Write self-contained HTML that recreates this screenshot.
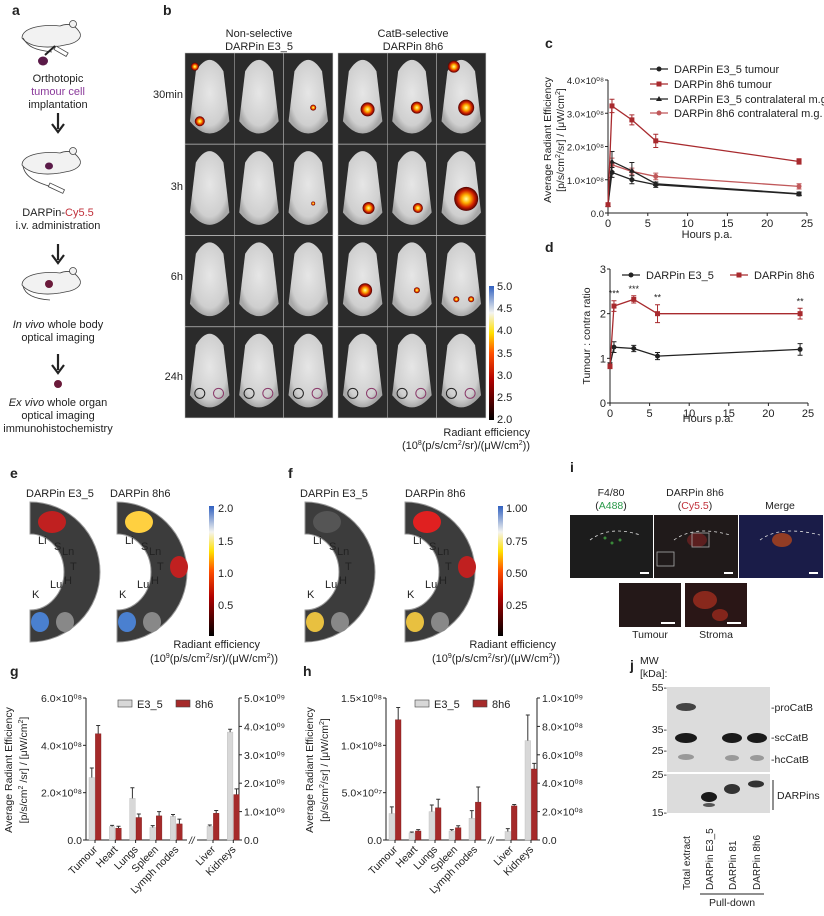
<!DOCTYPE html>
<html><head><meta charset="utf-8"><style>
body{margin:0;background:#fff;}
svg{display:block;font-family:"Liberation Sans",Arial,sans-serif;}
</style></head><body>
<svg id="fig" width="824" height="916" viewBox="0 0 824 916" xmlns="http://www.w3.org/2000/svg">
<defs>
<radialGradient id="hot" cx="50%" cy="50%" r="50%"><stop offset="0" stop-color="#ffffa0"/><stop offset="0.35" stop-color="#ffb000"/><stop offset="0.7" stop-color="#d02000"/><stop offset="1" stop-color="#500000"/></radialGradient>
<radialGradient id="mouse" cx="50%" cy="45%" r="55%"><stop offset="0" stop-color="#e6e6e6"/><stop offset="0.8" stop-color="#cfcfcf"/><stop offset="1" stop-color="#a8a8a8"/></radialGradient>
<linearGradient id="cbar" x1="0" y1="1" x2="0" y2="0"><stop offset="0" stop-color="#000"/><stop offset="0.3" stop-color="#b00000"/><stop offset="0.5" stop-color="#ff5000"/><stop offset="0.65" stop-color="#ffe000"/><stop offset="0.8" stop-color="#f4f4f0"/><stop offset="1" stop-color="#3060c0"/></linearGradient>
</defs>

<!-- Panel a -->
<g font-size="11" fill="#222" text-anchor="middle">
<text x="12" y="15" font-size="14" font-weight="bold" text-anchor="start">a</text>
<g fill="#f2f2f2" stroke="#444" stroke-width="0.8">
<path d="M22,38 C22,27 45,24 60,26 C70,22 76,26 80,33 C82,38 77,42 70,44 L60,46 C48,48 30,48 22,38 Z"/>
<circle cx="73" cy="24" r="3.5"/>
<path d="M23,38 C28,47 35,50 52,52" fill="none"/>
</g>
<line x1="55" y1="46" x2="45" y2="55" stroke="#222" stroke-width="2"/>
<rect x="56" y="46" width="14" height="4" transform="rotate(30 56 46)" fill="#fff" stroke="#444" stroke-width="0.8"/>
<ellipse cx="43" cy="61" rx="5" ry="4.5" fill="#5a1a48"/>
<text x="58" y="82">Orthotopic</text>
<text x="58" y="95" fill="#8a3a9a">tumour cell</text>
<text x="58" y="108">implantation</text>
<path d="M58,113 L58,129 M52,124 L58,132 L64,124" stroke="#222" stroke-width="2.2" fill="none"/>
<g fill="#f2f2f2" stroke="#444" stroke-width="0.8">
<path d="M22,165 C22,154 45,151 60,153 C70,149 76,153 80,160 C82,165 77,169 70,171 L60,173 C48,175 30,175 22,165 Z"/>
<circle cx="73" cy="151" r="3.5"/>
<path d="M23,166 C25,178 38,183 55,188" fill="none"/>
</g>
<ellipse cx="49" cy="166" rx="4" ry="3.5" fill="#5a1a48"/>
<rect x="50" y="183" width="16" height="4" transform="rotate(25 50 183)" fill="#fff" stroke="#444" stroke-width="0.8"/>
<text x="58" y="216">DARPin-<tspan fill="#c0303a">Cy5.5</tspan></text>
<text x="58" y="229">i.v. administration</text>
<path d="M58,244 L58,260 M52,255 L58,263 L64,255" stroke="#222" stroke-width="2.2" fill="none"/>
<g fill="#f2f2f2" stroke="#444" stroke-width="0.8">
<path d="M22,285 C22,274 45,271 60,273 C70,269 76,273 80,280 C82,285 77,289 70,291 L60,293 C48,295 30,295 22,285 Z"/>
<circle cx="73" cy="271" r="3.5"/>
<path d="M23,286 C25,295 35,299 50,300" fill="none"/>
</g>
<circle cx="49" cy="284" r="4" fill="#6a1a3a"/>
<text x="58" y="328"><tspan font-style="italic">In vivo</tspan> whole body</text>
<text x="58" y="341">optical imaging</text>
<path d="M58,354 L58,370 M52,365 L58,373 L64,365" stroke="#222" stroke-width="2.2" fill="none"/>
<circle cx="58" cy="384" r="4" fill="#6a1a3a"/>
<text x="58" y="406"><tspan font-style="italic">Ex vivo</tspan> whole organ</text>
<text x="58" y="419">optical imaging</text>
<text x="58" y="432">immunohistochemistry</text>
</g>

<!-- Panel b -->
<g font-size="11" fill="#222">
<text x="163" y="15" font-size="14" font-weight="bold">b</text>
<text x="259" y="37" text-anchor="middle">Non-selective</text>
<text x="259" y="50" text-anchor="middle">DARPin E3_5</text>
<text x="413" y="37" text-anchor="middle">CatB-selective</text>
<text x="413" y="50" text-anchor="middle">DARPin 8h6</text>
<text x="183" y="98" text-anchor="end">30min</text>
<text x="183" y="190" text-anchor="end">3h</text>
<text x="183" y="280" text-anchor="end">6h</text>
<text x="183" y="380" text-anchor="end">24h</text>
<g id="bgrid"></g>
<rect x="489" y="286" width="5" height="134" fill="url(#cbar)"/>
<g font-size="11" text-anchor="start">
<text x="497" y="290">5.0</text><text x="497" y="312">4.5</text><text x="497" y="334">4.0</text><text x="497" y="357">3.5</text><text x="497" y="379">3.0</text><text x="497" y="401">2.5</text><text x="497" y="423">2.0</text>
</g>
<text x="530" y="436" text-anchor="end">Radiant efficiency</text>
<text x="530" y="449" text-anchor="end">(10<tspan font-size="7" dy="-4">8</tspan><tspan dy="4">(p/s/cm</tspan><tspan font-size="7" dy="-4">2</tspan><tspan dy="4">/sr)/(μW/cm</tspan><tspan font-size="7" dy="-4">2</tspan><tspan dy="4">))</tspan></text>
</g>

<!-- Panel c/d -->
<g font-size="10.5" fill="#222">
<text x="545" y="48" font-size="14" font-weight="bold">c</text>
<text transform="translate(551,140) rotate(-90)" text-anchor="middle" font-size="10.5">Average Radiant Efficiency</text>
<text transform="translate(564,140) rotate(-90)" text-anchor="middle" font-size="10.5">[p/s/cm<tspan font-size="7" dy="-4">2</tspan><tspan dy="4">/sr] / [μW/cm</tspan><tspan font-size="7" dy="-4">2</tspan><tspan dy="4">]</tspan></text>
<g id="cplot"></g>
<text x="707" y="238" text-anchor="middle" font-size="11">Hours p.a.</text>
</g>
<g font-size="11" fill="#222">
<text x="545" y="252" font-size="14" font-weight="bold">d</text>
<text transform="translate(590,336) rotate(-90)" text-anchor="middle" font-size="10.5">Tumour : contra ratio</text>
<g id="dplot"></g>
<text x="708" y="422" text-anchor="middle">Hours p.a.</text>
</g>

<!-- Panel e -->
<g font-size="11" fill="#222">
<text x="10" y="478" font-size="14" font-weight="bold">e</text>
<text x="26" y="497">DARPin E3_5</text>
<text x="110" y="497">DARPin 8h6</text>
<g id="erings"></g>
<rect x="209" y="506" width="5" height="130" fill="url(#cbar)"/>
<text x="218" y="512">2.0</text><text x="218" y="545">1.5</text><text x="218" y="577">1.0</text><text x="218" y="609">0.5</text>
<text x="260" y="648" text-anchor="end">Radiant efficiency</text>
<text x="278" y="662" text-anchor="end">(10<tspan font-size="7" dy="-4">9</tspan><tspan dy="4">(p/s/cm</tspan><tspan font-size="7" dy="-4">2</tspan><tspan dy="4">/sr)/(μW/cm</tspan><tspan font-size="7" dy="-4">2</tspan><tspan dy="4">))</tspan></text>
</g>
<!-- Panel f -->
<g font-size="11" fill="#222">
<text x="288" y="478" font-size="14" font-weight="bold">f</text>
<text x="300" y="497">DARPin E3_5</text>
<text x="405" y="497">DARPin 8h6</text>
<rect x="498" y="506" width="5" height="130" fill="url(#cbar)"/>
<text x="506" y="512">1.00</text><text x="506" y="545">0.75</text><text x="506" y="577">0.50</text><text x="506" y="609">0.25</text>
<text x="556" y="648" text-anchor="end">Radiant efficiency</text>
<text x="560" y="662" text-anchor="end">(10<tspan font-size="7" dy="-4">9</tspan><tspan dy="4">(p/s/cm</tspan><tspan font-size="7" dy="-4">2</tspan><tspan dy="4">/sr)/(μW/cm</tspan><tspan font-size="7" dy="-4">2</tspan><tspan dy="4">))</tspan></text>
</g>

<!-- Panel i -->
<g font-size="10.5" fill="#222" text-anchor="middle">
<text x="570" y="472" font-size="14" font-weight="bold" text-anchor="start">i</text>
<text x="611" y="496">F4/80</text>
<text x="611" y="509">(<tspan fill="#2a9a4a">A488</tspan>)</text>
<text x="695" y="496">DARPin 8h6</text>
<text x="695" y="509">(<tspan fill="#c0303a">Cy5.5</tspan>)</text>
<text x="780" y="509">Merge</text>
<rect x="570" y="515" width="83" height="63" fill="#1c1c1c"/>
<rect x="654" y="515" width="84" height="63" fill="#201a1a"/>
<rect x="739" y="515" width="84" height="63" fill="#1a1c48"/>
<g fill="#3a8a3a"><circle cx="605" cy="538" r="1.5"/><circle cx="612" cy="543" r="1.5"/><circle cx="620" cy="540" r="1.5"/></g>
<ellipse cx="697" cy="540" rx="10" ry="7" fill="#6a2020" opacity="0.8"/>
<ellipse cx="782" cy="540" rx="10" ry="7" fill="#a04020" opacity="0.9"/>
<path d="M590,540 Q610,525 640,535 M674,540 Q695,525 730,535 M760,540 Q780,525 820,535" stroke="#ddd" stroke-dasharray="3,3" fill="none" stroke-width="0.8"/>
<rect x="657" y="552" width="17" height="14" fill="none" stroke="#aaa" stroke-width="0.8"/>
<rect x="692" y="533" width="17" height="14" fill="none" stroke="#aaa" stroke-width="0.8"/>
<rect x="619" y="583" width="62" height="44" fill="#241818"/>
<rect x="685" y="583" width="62" height="44" fill="#2a1616"/>
<ellipse cx="705" cy="600" rx="12" ry="9" fill="#b03020" opacity="0.7"/>
<ellipse cx="720" cy="615" rx="8" ry="6" fill="#c03020" opacity="0.6"/>
<g fill="#fff"><rect x="640" y="572" width="9" height="2"/><rect x="724" y="572" width="9" height="2"/><rect x="809" y="572" width="9" height="2"/><rect x="661" y="622" width="14" height="2"/><rect x="727" y="622" width="14" height="2"/></g>
<text x="650" y="638">Tumour</text>
<text x="716" y="638">Stroma</text>
</g>

<!-- Panel j -->
<g font-size="10.5" fill="#222">
<text x="630" y="670" font-size="14" font-weight="bold">j</text>
<text x="640" y="664">MW</text>
<text x="640" y="677">[kDa]:</text>
<rect x="667" y="687" width="103" height="85" fill="#dcdcdc"/>
<rect x="667" y="774" width="103" height="39" fill="#dcdcdc"/>
<g fill="#1a1a1a">
<ellipse cx="686" cy="707" rx="10" ry="4" fill="#444"/>
<ellipse cx="686" cy="738" rx="11" ry="5"/>
<ellipse cx="732" cy="738" rx="10" ry="5"/>
<ellipse cx="757" cy="738" rx="10" ry="5"/>
<ellipse cx="686" cy="757" rx="8" ry="3" fill="#999"/>
<ellipse cx="732" cy="758" rx="7" ry="3" fill="#999"/>
<ellipse cx="757" cy="758" rx="7" ry="3" fill="#999"/>
<ellipse cx="709" cy="797" rx="8" ry="5"/>
<ellipse cx="709" cy="805" rx="6" ry="2" fill="#555"/>
<ellipse cx="732" cy="789" rx="8" ry="5" fill="#333"/>
<ellipse cx="756" cy="784" rx="8" ry="3.5" fill="#333"/>
</g>
<g text-anchor="end"><text x="667" y="691">55-</text><text x="667" y="733">35-</text><text x="667" y="754">25-</text><text x="667" y="778">25-</text><text x="667" y="816">15-</text></g>
<text x="771" y="711">-proCatB</text>
<text x="771" y="741">-scCatB</text>
<text x="771" y="763">-hcCatB</text>
<line x1="773" y1="780" x2="773" y2="810" stroke="#222"/>
<text x="777" y="799">DARPins</text>
<g font-size="10">
<text transform="translate(690,890) rotate(-90)">Total extract</text>
<text transform="translate(713,890) rotate(-90)">DARPin E3_5</text>
<text transform="translate(736,890) rotate(-90)">DARPin 81</text>
<text transform="translate(760,890) rotate(-90)">DARPin 8h6</text>
</g>
<line x1="700" y1="894" x2="764" y2="894" stroke="#222"/>
<text x="732" y="906" text-anchor="middle">Pull-down</text>
</g>

<!-- Panel g/h -->
<g font-size="10.5" fill="#222">
<text x="10" y="676" font-size="14" font-weight="bold">g</text>
<text transform="translate(12,770) rotate(-90)" text-anchor="middle">Average Radiant Efficiency</text>
<text transform="translate(27,770) rotate(-90)" text-anchor="middle">[p/s/cm<tspan font-size="7" dy="-4">2</tspan><tspan dy="4"> /sr] / [μW/cm</tspan><tspan font-size="7" dy="-4">2</tspan><tspan dy="4">]</tspan></text>
<g id="gplot"></g>
</g>
<g font-size="10.5" fill="#222">
<text x="303" y="676" font-size="14" font-weight="bold">h</text>
<text transform="translate(313,770) rotate(-90)" text-anchor="middle">Average Radiant Efficiency</text>
<text transform="translate(328,770) rotate(-90)" text-anchor="middle">[p/s/cm<tspan font-size="7" dy="-4">2</tspan><tspan dy="4">/sr] / [μW/cm</tspan><tspan font-size="7" dy="-4">2</tspan><tspan dy="4">]</tspan></text>
<g id="hplot"></g>
</g>
</svg>
<script>
// ---- panel c data ----
const cTimes = [0, 0.5, 3, 6, 24];
const cE35Tumour = [0.25, 1.22, 1.0, 0.85, 0.57];
const c8h6Tumour = [0.25, 3.22, 2.8, 2.17, 1.55];
const cE35Contra = [0.25, 1.55, 1.27, 0.88, 0.58];
const c8h6Contra = [0.25, 1.45, 1.25, 1.1, 0.8];
const cErr = [0.05, 0.2, 0.15, 0.2, 0.08];
const cYTicks = ["0.0", "1.0×10⁰⁸", "2.0×10⁰⁸", "3.0×10⁰⁸", "4.0×10⁰⁸"];
const xTicks = [0, 5, 10, 15, 20, 25];
// ---- panel d data ----
const dE35 = [0.85, 1.25, 1.22, 1.05, 1.2];
const d8h6 = [0.82, 2.17, 2.32, 2.0, 2.0];
const dErr = [0.05, 0.12, 0.08, 0.2, 0.12];
const dStars = ["", "***", "***", "**", "**"];
const dYTicks = [0, 1, 2, 3];
// ---- panel g data ----
const organsLeft = ["Tumour", "Heart", "Lungs", "Spleen", "Lymph nodes"];
const organsRight = ["Liver", "Kidneys"];
const gE35L = [2.64, 0.57, 1.76, 0.53, 1.0];
const g8h6L = [4.49, 0.5, 0.95, 1.02, 0.68];
const gE35LErr = [0.4, 0.05, 0.45, 0.08, 0.08];
const g8h6LErr = [0.35, 0.08, 0.15, 0.18, 0.2];
const gE35R = [0.48, 3.8];
const g8h6R = [0.94, 1.6];
const gE35RErr = [0.05, 0.1];
const g8h6RErr = [0.1, 0.2];
const gLeftTicks = ["0.0", "2.0×10⁰⁸", "4.0×10⁰⁸", "6.0×10⁰⁸"];
const gRightTicks = ["0.0", "1.0×10⁰⁹", "2.0×10⁰⁹", "3.0×10⁰⁹", "4.0×10⁰⁹", "5.0×10⁰⁹"];
// ---- panel h data ----
const hE35L = [2.8, 0.75, 3.0, 0.95, 2.3];
const h8h6L = [12.7, 0.95, 3.4, 1.3, 4.0];
const hE35LErr = [0.7, 0.1, 0.7, 0.15, 0.8];
const h8h6LErr = [1.3, 0.15, 0.9, 0.2, 1.6];
const hE35R = [0.06, 0.7];
const h8h6R = [0.24, 0.5];
const hE35RErr = [0.02, 0.18];
const h8h6RErr = [0.01, 0.04];
const hLeftTicks = ["0.0", "5.0×10⁰⁷", "1.0×10⁰⁸", "1.5×10⁰⁸"];
const hRightTicks = ["0.0", "2.0×10⁰⁸", "4.0×10⁰⁸", "6.0×10⁰⁸", "8.0×10⁰⁸", "1.0×10⁰⁹"];

const NS = "http://www.w3.org/2000/svg";
function mk(parent, tag, attrs, txt) {
  const e = document.createElementNS(NS, tag);
  for (const k in attrs) e.setAttribute(k, attrs[k]);
  if (txt !== undefined) e.textContent = txt;
  parent.appendChild(e);
  return e;
}

// ---- line charts ----
function lineChart(g, ox, oy, w, h, ymax, yTicks, fs) {
  const X = t => ox + t / 25 * w;
  const Y = v => oy - v / ymax * h;
  let ax = mk(g, "path", {d: `M${ox},${oy - h} L${ox},${oy} L${ox + w},${oy}`, stroke: "#222", fill: "none", "stroke-width": 1});
  
  
  yTicks.forEach((lab, i) => {
    const v = i / (yTicks.length - 1) * ymax;
    mk(g, "line", {x1: ox - 3, x2: ox, y1: Y(v), y2: Y(v), stroke: "#222"});
    let t = mk(g, "text", {x: ox - 4, y: Y(v) + 4, "text-anchor": "end", "font-size": fs}, lab);
    
    
  });
  xTicks.forEach(v => {
    mk(g, "line", {x1: X(v), x2: X(v), y1: oy, y2: oy + 3, stroke: "#222"});
    let t = mk(g, "text", {x: X(v), y: oy + 14, "text-anchor": "middle", "font-size": 11}, v);
    
    
  });
  return {X, Y};
}
function series(g, sc, vals, err, color, marker, name) {
  const pts = cTimes.map((t, i) => `${sc.X(t)},${sc.Y(vals[i])}`).join(" ");
  let pl = mk(g, "polyline", {points: pts, fill: "none", stroke: color, "stroke-width": 1.3});
  
  
  cTimes.forEach((t, i) => {
    const x = sc.X(t), y = sc.Y(vals[i]), e = sc.Y(0) - sc.Y(err[i]);
    mk(g, "path", {d: `M${x},${y - e} L${x},${y + e} M${x - 2.5},${y - e} L${x + 2.5},${y - e} M${x - 2.5},${y + e} L${x + 2.5},${y + e}`, stroke: color, fill: "none"});
    let m;
    if (marker === "tri") m = mk(g, "path", {d: `M${x},${y - 3} L${x + 3},${y + 2} L${x - 3},${y + 2} Z`, fill: color});
    else if (marker === "sq") m = mk(g, "rect", {x: x - 2.5, y: y - 2.5, width: 5, height: 5, fill: color});
    else m = mk(g, "circle", {cx: x, cy: y, r: 2.5, fill: color});
    
    
  });
}
function legendRow(g, x, y, color, marker, label) {
  mk(g, "line", {x1: x, x2: x + 18, y1: y, y2: y, stroke: color, "stroke-width": 1.3});
  if (marker === "sq") mk(g, "rect", {x: x + 6.5, y: y - 2.5, width: 5, height: 5, fill: color});
  else if (marker === "tri") mk(g, "path", {d: `M${x + 9},${y - 3} L${x + 12},${y + 2} L${x + 6},${y + 2} Z`, fill: color});
  else mk(g, "circle", {cx: x + 9, cy: y, r: 2.5, fill: color});
  let t = mk(g, "text", {x: x + 24, y: y + 4, "font-size": 11}, label);
  
  
}
const RED = "#a82a2e", RED2 = "#c0585a";
{
  const g = document.getElementById("cplot");
  const sc = lineChart(g, 608, 213, 199, 133, 4, cYTicks, 9.5);
  series(g, sc, c8h6Contra, [0.05, 0.2, 0.1, 0.1, 0.08], RED2, "circ", "e8h6-contra");
  series(g, sc, cE35Contra, [0.05, 0.3, 0.25, 0.05, 0.05], "#222", "tri", "e35-contra");
  series(g, sc, cE35Tumour, [0.05, 0.15, 0.12, 0.08, 0.05], "#222", "circ", "e35-tumour");
  series(g, sc, c8h6Tumour, cErr, RED, "sq", "e8h6-tumour");
  legendRow(g, 650, 69, "#222", "circ", "DARPin E3_5 tumour");
  legendRow(g, 650, 84, RED, "sq", "DARPin 8h6 tumour");
  legendRow(g, 650, 99, "#222", "tri", "DARPin E3_5 contralateral m.g");
  legendRow(g, 650, 113, RED2, "circ", "DARPin 8h6 contralateral m.g.");
}
{
  const g = document.getElementById("dplot");
  const sc = lineChart(g, 610, 403, 198, 134, 3, dYTicks, 11);
  series(g, sc, dE35, [0.05, 0.12, 0.07, 0.08, 0.13], "#222", "circ", "d-e35");
  series(g, sc, d8h6, dErr, RED, "sq", "d-8h6");
  cTimes.forEach((t, i) => {
    if (!dStars[i]) return;
    let s = mk(g, "text", {x: sc.X(t), y: sc.Y(d8h6[i] + dErr[i]) - 4, "text-anchor": "middle", "font-size": 9}, dStars[i]);
    
    
  });
  legendRow(g, 622, 275, "#222", "circ", "DARPin E3_5");
  legendRow(g, 730, 275, RED, "sq", "DARPin 8h6");
}

// ---- bar charts ----
function barChart(g, cfg) {
  const oy = 840, h = 142;
  const YL = v => oy - v / cfg.lmax * h;
  const YR = v => oy - v / cfg.rmax * h;
  mk(g, "path", {d: `M${cfg.lx},${oy - h} L${cfg.lx},${oy} L${cfg.lend},${oy}`, stroke: "#222", fill: "none"});
  mk(g, "path", {d: `M${cfg.rstart},${oy} L${cfg.rx},${oy} L${cfg.rx},${oy - h}`, stroke: "#222", fill: "none"});
  mk(g, "text", {x: cfg.lend + 2, y: oy + 4, "font-size": 10, "font-style": "italic"}, "//");
  cfg.lt.forEach((lab, i) => {
    const y = oy - i / (cfg.lt.length - 1) * h;
    mk(g, "line", {x1: cfg.lx - 3, x2: cfg.lx, y1: y, y2: y, stroke: "#222"});
    let t = mk(g, "text", {x: cfg.lx - 4, y: y + 4, "text-anchor": "end"}, lab);
    
    
  });
  cfg.rt.forEach((lab, i) => {
    const y = oy - i / (cfg.rt.length - 1) * h;
    mk(g, "line", {x1: cfg.rx, x2: cfg.rx + 3, y1: y, y2: y, stroke: "#222"});
    let t = mk(g, "text", {x: cfg.rx + 5, y: y + 4}, lab);
    
    
  });
  function bars(cx, a, b, ea, eb, Y, cat) {
    [[a, ea, "#d8d8d8", "#bbb", -3.2, "e35"], [b, eb, "#a52a2a", "#7a1a1a", 3.2, "8h6"]].forEach(([v, e, f, s, off, nm]) => {
      const x = cx + off;
      let r = mk(g, "rect", {x: x - 2.8, y: Y(v), width: 5.6, height: oy - Y(v), fill: f, stroke: s, "stroke-width": 0.4});
      
      
      mk(g, "path", {d: `M${x},${Y(v)} L${x},${Y(v + e)} M${x - 2},${Y(v + e)} L${x + 2},${Y(v + e)}`, stroke: "#333", fill: "none"});
    });
    let t = mk(g, "text", {transform: `translate(${cx + 3},${oy + 10}) rotate(-45)`, "text-anchor": "end"}, cat);
    
    
    mk(g, "line", {x1: cx, x2: cx, y1: oy, y2: oy + 3, stroke: "#222"});
  }
  organsLeft.forEach((c, i) => bars(cfg.lg0 + i * cfg.step, cfg.aL[i], cfg.bL[i], cfg.eaL[i], cfg.ebL[i], YL, c));
  organsRight.forEach((c, i) => bars(cfg.rg0 + i * cfg.step, cfg.aR[i], cfg.bR[i], cfg.eaR[i], cfg.ebR[i], YR, c));
  mk(g, "rect", {x: cfg.legx, y: 700, width: 14, height: 7, fill: "#d8d8d8", stroke: "#444", "stroke-width": 0.6});
  let l1 = mk(g, "text", {x: cfg.legx + 19, y: 708, "font-size": 11}, "E3_5");
  
  
  mk(g, "rect", {x: cfg.legx + 58, y: 700, width: 14, height: 7, fill: "#a52a2a", stroke: "#444", "stroke-width": 0.6});
  let l2 = mk(g, "text", {x: cfg.legx + 77, y: 708, "font-size": 11}, "8h6");
  
  
}
barChart(document.getElementById("gplot"), {lx: 86, lend: 187, rstart: 197, rx: 239, lmax: 6, rmax: 5, lt: gLeftTicks, rt: gRightTicks,
  lg0: 95, rg0: 213, step: 20.3, aL: gE35L, bL: g8h6L, eaL: gE35LErr, ebL: g8h6LErr, aR: gE35R, bR: g8h6R, eaR: gE35RErr, ebR: g8h6RErr, legx: 118});
barChart(document.getElementById("hplot"), {lx: 386, lend: 486, rstart: 496, rx: 537, lmax: 15, rmax: 1.0, lt: hLeftTicks, rt: hRightTicks,
  lg0: 395, rg0: 511, step: 20, aL: hE35L, bL: h8h6L, eaL: hE35LErr, ebL: h8h6LErr, aR: hE35R, bR: h8h6R, eaR: hE35RErr, ebR: h8h6RErr, legx: 415});

// ---- panel b mice grid ----
{
  const g = document.getElementById("bgrid");
  const grids = [185, 338];
  const hot = [
    [[[0.3,0.75,5],[0.2,0.15,4]],[],[[0.6,0.6,3]]],
    [[[0.6,0.62,7]],[[0.6,0.6,6]],[[0.6,0.6,8],[0.35,0.15,6]]],
    [[],[],[[0.6,0.65,2]]],
    [[[0.62,0.7,6]],[[0.62,0.7,5]],[[0.6,0.6,12]]],
    [[],[],[]],
    [[[0.55,0.6,7]],[[0.6,0.6,3]],[[0.4,0.7,3],[0.7,0.7,3]]],
    [[],[],[]],
    [[],[],[]]
  ];
  for (let r = 0; r < 4; r++) {
    grids.forEach((gx, gi) => {
      for (let c = 0; c < 3; c++) {
        const x = gx + c * 49.3, y = 53 + r * 91.3, w = 49.3, h = 91;
        let cell = mk(g, "rect", {x, y, width: w, height: h, fill: "#2b2b2b", stroke: "#bbb", "stroke-width": 0.5});
        
        
        mk(g, "path", {d: `M${x + w * 0.22},${y + h * 0.2} Q${x + w * 0.5},${y - h * 0.05} ${x + w * 0.78},${y + h * 0.2} L${x + w * 0.9},${y + h * 0.75} Q${x + w * 0.5},${y + h * 1.02} ${x + w * 0.1},${y + h * 0.75} Z`, fill: "url(#mouse)"});
        (hot[r * 2 + gi][c] || []).forEach(([fx, fy, rr]) => mk(g, "circle", {cx: x + w * fx, cy: y + h * fy, r: rr, fill: "url(#hot)"}));
        if (r === 3) {
          mk(g, "circle", {cx: x + w * 0.3, cy: y + h * 0.73, r: 5, fill: "none", stroke: "#222"});
          mk(g, "circle", {cx: x + w * 0.68, cy: y + h * 0.73, r: 5, fill: "none", stroke: "#8a3a6a"});
        }
      }
    });
  }
}
// ---- panel e/f organ rings ----
{
  const svg = document.getElementById("fig");
  const rings = [25, 112, 300, 400];
  rings.forEach((x0, i) => {
    const cy = 572, R = 70, r = 38;
    const cx = x0 + 5;
    let p = mk(svg, "path", {d: `M${cx},${cy - R} A${R},${R} 0 0 1 ${cx},${cy + R} L${cx},${cy + r} A${r - 4},${r} 0 0 0 ${cx},${cy - r} Z`, fill: "#3c3c3c", stroke: "#999", "stroke-width": 1});
    
    
    const lbl = [["Li", 8, -28], ["S", 24, -22], ["Ln", 32, -17], ["T", 40, -2], ["H", 34, 12], ["Lu", 20, 16], ["K", 2, 26]];
    lbl.forEach(([t, dx, dy]) => mk(svg, "text", {x: cx + dx, y: cy + dy, "font-size": 11, fill: "#222"}, t));
    const liverCol = ["#c02020", "#ffd040", "#555", "#e02020"][i];
    mk(svg, "ellipse", {cx: cx + 22, cy: cy - 50, rx: 14, ry: 11, fill: liverCol});
    const kCol = ["#4a80d0", "#4a80d0", "#e8c040", "#e8c040"][i];
    mk(svg, "ellipse", {cx: cx + 10, cy: cy + 50, rx: 9, ry: 10, fill: kCol});
    mk(svg, "ellipse", {cx: cx + 35, cy: cy + 50, rx: 9, ry: 10, fill: "#888"});
    if (i === 1 || i === 3) mk(svg, "ellipse", {cx: cx + 62, cy: cy - 5, rx: 9, ry: 11, fill: "#c02020"});
  });
}
</script>
</body></html>
